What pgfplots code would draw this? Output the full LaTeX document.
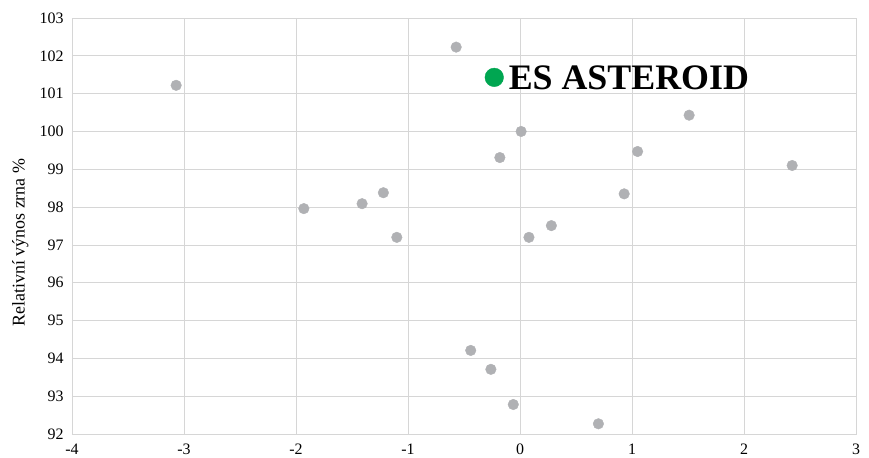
\documentclass[border=0pt]{standalone}
\usepackage{fontspec}
\setmainfont{Liberation Serif}
\usepackage{pgfplots}
\pgfplotsset{compat=1.18}
\definecolor{dotgray}{RGB}{176,177,180}
\definecolor{esgreen}{RGB}{0,166,81}
\definecolor{gridgray}{RGB}{214,214,214}
\begin{document}
\begin{tikzpicture}
\begin{axis}[
  name=ax,
  scale only axis,
  width=784bp, height=416bp,
  xmin=-4, xmax=3, ymin=92, ymax=103,
  xtick={-4,...,3}, ytick={92,...,103},
  grid=major,
  grid style={gridgray, line width=0.8pt},
  axis line style={gridgray, line width=0.8pt},
  tick style={draw=none},
  /pgf/number format/assume math mode=true,
  ticklabel style={font=\fontsize{16}{18}\selectfont},
  xticklabel style={yshift=-6bp},
  yticklabel style={xshift=-5bp},
  ylabel={Relativní výnos zrna \%},
  ylabel style={font=\fontsize{18}{20}\selectfont, at={(axis description cs:-0.066,0.46)}, anchor=center, rotate=0},
  clip=false,
]
\addplot[only marks, color=dotgray, mark=*, mark size=5.3bp, mark options={draw=none, fill=dotgray}] coordinates {
(-3.07,101.22) (-0.57,102.23) (1.51,100.43) (0.01,100.00) (1.05,99.47)
(-0.18,99.31) (2.43,99.10) (-1.22,98.38) (0.93,98.35) (-1.41,98.09)
(-1.93,97.96) (0.28,97.51) (-1.10,97.20) (0.08,97.20) (-0.44,94.21)
(-0.26,93.71) (-0.06,92.78) (0.70,92.27)
};
\addplot[only marks, color=esgreen, mark=*, mark size=9.3bp, mark options={draw=none, fill=esgreen}] coordinates {(-0.23,101.43)}
  node[anchor=west, xshift=11bp, font=\fontsize{36}{38}\selectfont\bfseries, black] {ES ASTEROID};
\end{axis}
\path[use as bounding box] ([shift={(-72bp,-23bp)}]ax.south west) rectangle ([shift={(13bp,18bp)}]ax.north east);
\end{tikzpicture}
\end{document}
